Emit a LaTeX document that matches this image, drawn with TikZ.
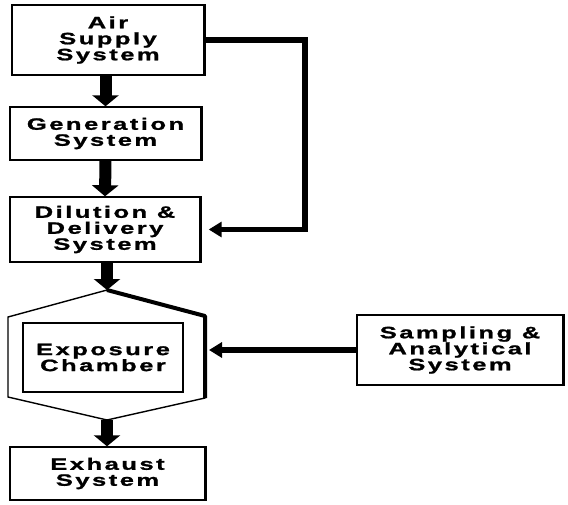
\documentclass[tikz,border=0pt]{standalone}
\usepackage{fontspec}
\newfontfamily\flowfont{Liberation Sans}[FakeStretch=1.55,LetterSpace=15,BoldFeatures={FakeBold=1.2}]
\usetikzlibrary{arrows.meta}

\begin{document}
\begin{tikzpicture}[x=1pt,y=-1pt,
  sysbox/.style={draw,line width=1.4pt,align=center,inner sep=0pt,
    font=\flowfont\bfseries\fontsize{16.5}{16}\selectfont},
  bigflow/.style={line width=12pt,-{Triangle[width=26pt,length=11pt]}},
  thinflow/.style={line width=5.5pt,-{Triangle[width=15pt,length=13pt]}}]
\useasboundingbox (0,0) rectangle (568,504);

% The boxes
\node[sysbox,minimum width=192pt,minimum height=70pt] (air) at (108,40) {Air\\Supply\\System};
\node[sysbox,minimum width=191pt,minimum height=53pt] (gen) at (105.5,133.5) {Generation\\System};
\node[sysbox,minimum width=190pt,minimum height=65pt] (dil) at (105,229.5) {Dilution \&\\Delivery\\System};
\node[sysbox,minimum width=195pt,minimum height=53pt] (exh) at (107.5,473.5) {Exhaust\\System};
\node[sysbox,minimum width=206pt,minimum height=70pt] (samp) at (460,350) {Sampling \&\\Analytical\\System};

% The shadow on the right
\foreach \n in {air,gen,dil,exh,samp}
{
  \draw[line width=3.5pt] (\n.north east) -- (\n.south east);
}

% The chamber
\coordinate (hexN) at (107,290);
\coordinate (hexNE) at (205,316);
\coordinate (hexSE) at (205,398);
\coordinate (hexS) at (107,420);
\coordinate (hexSW) at (8,397);
\coordinate (hexNW) at (8,317);
\coordinate (hexE) at (209,350);
\draw[line width=1.4pt] (hexN) -- (hexNE) -- (hexSE) -- (hexS) -- (hexSW) -- (hexNW) -- cycle;
\draw[line width=4pt,line join=round] (hexN) -- (hexNE) -- (hexSE);
\node[sysbox,line width=1.1pt,minimum width=160pt,minimum height=69pt] (chamber) at (103,357.5) {Exposure\\Chamber};

% The flow
\draw[bigflow] (air.south -| gen.north) -- (gen.north);
\draw[bigflow] (gen.south) -- (dil.north);
\draw[bigflow] (dil.south -| hexN) -- (hexN);
\draw[bigflow] (hexS) -- (exh.north -| hexS);

% The bypass and the sampling line
\coordinate (loop) at (305,40);
\draw[thinflow,shorten >=8pt] (air.east) -- (loop) |- (dil.east);
\draw[thinflow] (samp.west) -- (samp.west -| hexE);

\end{tikzpicture}
\end{document}
